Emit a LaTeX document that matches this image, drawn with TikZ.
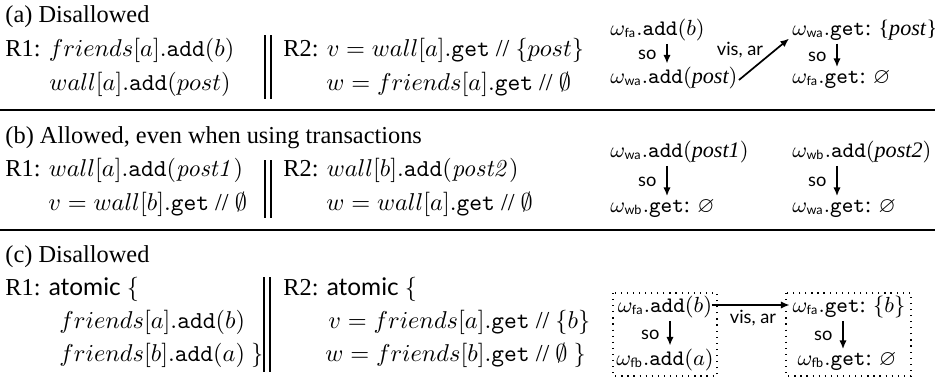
\documentclass[tikz,border=0pt]{standalone}
\usepackage{amsmath,amssymb}
\usepackage[no-math]{fontspec}
\setmainfont{Liberation Serif}
\setsansfont{Lato}
\usetikzlibrary{arrows.meta,calc}
\newcommand\omg[1]{\omega_{\mbox{\fontsize{5.2}{6}\selectfont\sffamily #1}}}
\newcommand\tadd{\texttt{add}}
\newcommand\tget{\texttt{get}}
\newcommand\gget{\texttt{get}:}
\begin{document}
\begin{tikzpicture}[x=0.4108pt,y=-0.4108pt,
  txt/.style={anchor=base west,inner sep=0pt,font=\fontsize{10}{12}\selectfont},
  gtxt/.style={anchor=base west,inner sep=0pt,font=\fontsize{9.1}{11}\selectfont},
  ctxt/.style={anchor=base,inner sep=0pt,font=\fontsize{9.1}{11}\selectfont},
  lab/.style={inner sep=0pt,font=\fontsize{7.5}{8}\selectfont\sffamily},
  arr/.style={-{Latex[length=3.6pt,width=3pt]},line width=0.7pt,shorten >=1pt},
  rulestyle/.style={line width=0.6pt},
  barstyle/.style={line width=0.5pt},
  boxstyle/.style={dotted,line width=0.5pt}]
\useasboundingbox (0,0) rectangle (935,383);

% separating rules
\draw[rulestyle] (0,110) -- (935,110);
\draw[rulestyle] (0,230) -- (935,230);

% ---------------- (a)
\node[txt] (ta) at (5,22) {(a) Disallowed};
\node[txt] (a11) at (5,56) {R1: $friends[a].\tadd(b)$};
\node[txt] (a12) at (49,90) {$wall[a].\tadd(post)$};
\draw[barstyle] (265,35) -- (265,99);
\draw[barstyle] (271,35) -- (271,99);
\node[txt] (a21) at (283,56) {R2: $v = wall[a].\tget$ // $\{post\}$};
\node[txt] (a22) at (326,90) {$w = friends[a].\tget$ // $\emptyset$};

\node[gtxt] (A1) at (610,35) {$\omg{fa}.\tadd(b)$};
\node[gtxt] (A2) at (610,83) {$\omg{wa}.\tadd(\textit{post})$};
\node[gtxt] (A3) at (792,35) {$\omg{wa}.$\gget{} \{\textit{post}\}};
\node[gtxt] (A4) at (792,83) {$\omg{fa}.$\gget{} $\varnothing$};
\draw[arr] ($(A1.south west)+(57,3)$) coordinate (pa1) -- node[lab,left=4pt]{so} (pa1 |- A2.north);
\draw[arr] ($(A3.south west)+(45,3)$) coordinate (pa2) -- node[lab,left=4pt]{so} (pa2 |- A4.north);
\draw[arr] ($(A2.base east)+(1,-3)$) -- ($(A3.base west)+(-1,2)$);
\node[lab] (va) at (740,50) {vis, ar};

% ---------------- (b)
\node[txt] (tb) at (5,143) {(b) Allowed, even when using transactions};
\node[txt] (b11) at (5,176) {R1: $wall[a].\tadd(\mathit{post1})$};
\node[txt] (b12) at (48,210) {$v = wall[b].\tget$ // $\emptyset$};
\draw[barstyle] (265,160) -- (265,218);
\draw[barstyle] (271,160) -- (271,218);
\node[txt] (b21) at (283,176) {R2: $wall[b].\tadd(\mathit{post2})$};
\node[txt] (b22) at (326,210) {$w = wall[a].\tget$ // $\emptyset$};

\node[gtxt] (B1) at (610,157) {$\omg{wa}.\tadd(\textit{post1})$};
\node[gtxt] (B2) at (610,212) {$\omg{wb}.$\gget{} $\varnothing$};
\node[gtxt] (B3) at (792,157) {$\omg{wb}.\tadd(\textit{post2})$};
\node[gtxt] (B4) at (792,212) {$\omg{wa}.$\gget{} $\varnothing$};
\draw[arr] ($(B1.south west)+(57,3)$) coordinate (pb1) -- node[lab,left=4pt]{so} (pb1 |- B2.north);
\draw[arr] ($(B3.south west)+(45,3)$) coordinate (pb2) -- node[lab,left=4pt]{so} (pb2 |- B4.north);

% ---------------- (c)
\node[txt] (tc) at (5,262) {(c) Disallowed};
\node[txt] (c11) at (5,295) {R1: \textsf{atomic} $\{$};
\node[txt] (c12) at (59,328) {$friends[a].\tadd(b)$};
\node[txt] (c13) at (59,361) {$friends[b].\tadd(a)$ $\}$};
\draw[barstyle] (264,277) -- (264,372);
\draw[barstyle] (270,277) -- (270,372);
\node[txt] (c21) at (283,295) {R2: \textsf{atomic} $\{$};
\node[txt] (c22) at (328,328) {$v = friends[a].\tget$ // $\{b\}$};
\node[txt] (c23) at (325,361) {$w = friends[b].\tget$ // $\emptyset$ $\}$};

\draw[boxstyle] (613,293) rectangle (717,376);
\draw[boxstyle] (786,293) rectangle (911,376);
\node[ctxt] (C1) at (665,312) {$\omg{fa}.\tadd(b)$};
\node[ctxt] (C2) at (665,365) {$\omg{fb}.\tadd(a)$};
\node[ctxt] (C3) at (849,312) {$\omg{fa}.$\gget{} $\{b\}$};
\node[ctxt] (C4) at (847,365) {$\omg{fb}.$\gget{} $\varnothing$};
\draw[arr] ($(C1.south)+(5,3)$) coordinate (pc1) -- node[lab,left=4pt]{so} (pc1 |- C2.north);
\draw[arr] ($(C3.south)+(-6,3)$) coordinate (pc2) -- node[lab,left=4pt]{so} (pc2 |- C4.north);
\draw[arr] ($(C1.base east)+(-1,-7)$) coordinate (h1) -- (h1 -| C3.west);
\node[lab] (vc) at (753,318) {vis, ar};
\end{tikzpicture}
\end{document}
